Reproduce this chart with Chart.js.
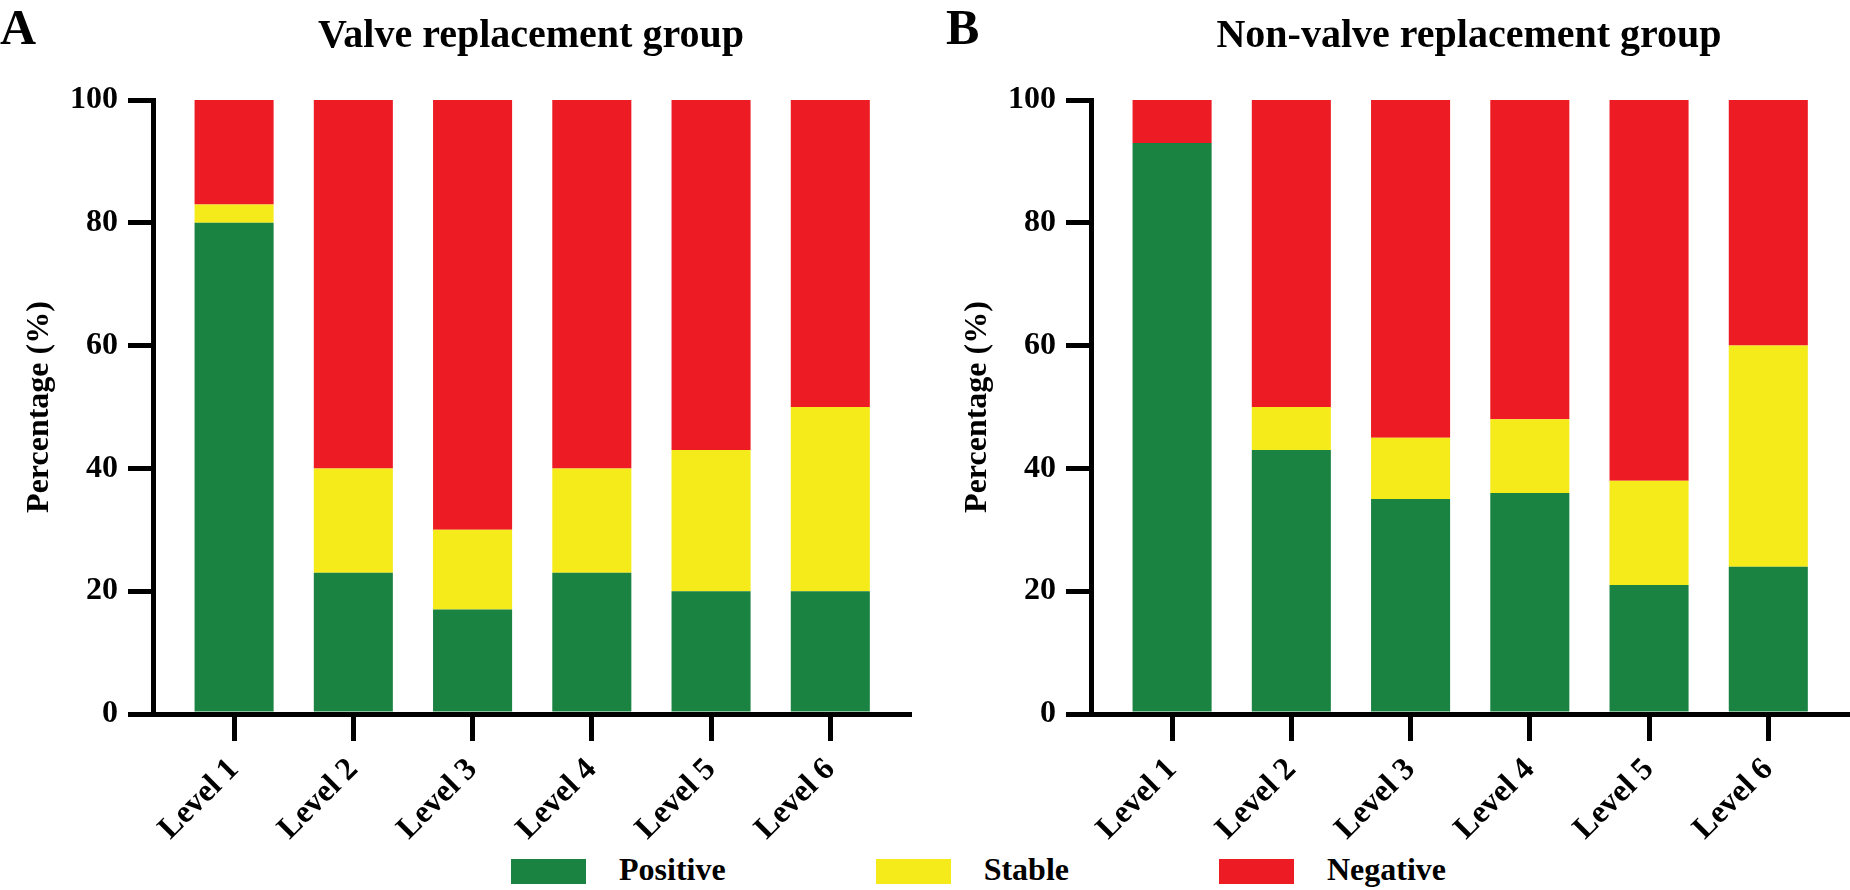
<!DOCTYPE html>
<html>
<head>
<meta charset="utf-8">
<title>Valve vs non-valve replacement group</title>
<script src="https://cdn.jsdelivr.net/npm/chart.js@4.4.1/dist/chart.umd.min.js"></script>
<style>
  body { margin: 0; background: #fff; }
  #page { position: relative; width: 1850px; height: 890px; overflow: hidden;
          font-family: 'Liberation Serif', 'Times New Roman', serif; font-weight: bold; color: #000; }
  canvas { position: absolute; top: 0; }
  .panel-letter { position: absolute; top: 2px; font-size: 50px; line-height: 1; }
  .panel-title { position: absolute; top: 14px; width: 756px; text-align: center; font-size: 40px; line-height: 1; }
  #legend { position: absolute; top: 850px; left: 511px; display: flex; font-size: 32px; line-height: 38px; }
  .item { display: flex; margin-right: 150px; }
  .swatch { display: block; width: 75px; height: 25px; margin-top: 9px; margin-right: 33px; }
</style>
</head>
<body>
<div id="page">
  <canvas id="valve" width="930" height="850" style="left:0"></canvas>
  <canvas id="nonValve" width="912" height="850" style="left:938px"></canvas>
  <div class="panel-letter" style="left:0">A</div>
  <div class="panel-title" style="left:153px">Valve replacement group</div>
  <div class="panel-letter" style="left:946px">B</div>
  <div class="panel-title" style="left:1091px">Non-valve replacement group</div>
  <div id="legend"></div>
</div>
<script>
// Categories and series
const levels = ['Level 1', 'Level 2', 'Level 3', 'Level 4', 'Level 5', 'Level 6'];
const seriesNames = ['Positive', 'Stable', 'Negative'];
const seriesColors = ['#1a8342', '#f5ea1a', '#ed1c24'];

// Valve replacement group (%)
const valvePositive = [80, 23, 17, 23, 20, 20];
const valveStable = [3, 17, 13, 17, 23, 30];
const valveNegative = [17, 60, 70, 60, 57, 50];

// Non-valve replacement group (%)
const nonValvePositive = [93, 43, 35, 36, 21, 24];
const nonValveStable = [0, 7, 10, 12, 17, 36];
const nonValveNegative = [7, 50, 55, 52, 62, 40];

const yMin = 0;
const yMax = 100;
const yStep = 20;

var axisFont = { family: 'Liberation Serif', weight: 'bold', size: 32 };

// Build one stacked bar panel
function buildChart(id, series, rightPad) {
  var ctx = document.getElementById(id).getContext('2d');
  return new Chart(ctx, {
    type: 'bar',
    data: {
      datasets: series.map(function (values, k) {
        return {
          label: seriesNames[k],
          data: values.map(function (v, i) { return { x: i, y: v }; }),
          backgroundColor: seriesColors[k],
          borderWidth: 0,
          barPercentage: 0.663,
          categoryPercentage: 1
        };
      })
    },
    options: {
      responsive: false,
      animation: false,
      layout: { padding: { top: 100, right: rightPad, bottom: 0, left: 0 } },
      plugins: {
        legend: { display: false },
        tooltip: { enabled: false }
      },
      scales: {
        x: {
          type: 'linear',
          stacked: true,
          offset: false,
          min: -0.68,
          max: levels.length - 1 + 0.66,
          grid: { drawOnChartArea: false, offset: false, tickLength: 27, lineWidth: 5, color: '#000' },
          border: { width: 5, color: '#000' },
          ticks: {
            stepSize: 1,
            includeBounds: false,
            autoSkip: false,
            minRotation: 45,
            maxRotation: 45,
            padding: 10,
            color: '#000',
            font: axisFont,
            callback: function (value) { return levels[value] || ''; }
          },
          afterFit: function (scale) { scale.height = 136; }
        },
        y: {
          stacked: true,
          min: yMin,
          max: yMax,
          grid: { drawOnChartArea: false, tickLength: 25, lineWidth: 5, color: '#000' },
          border: { width: 5, color: '#000' },
          ticks: { stepSize: yStep, padding: 10, color: '#000', font: axisFont },
          title: {
            display: true,
            text: 'Percentage (%)',
            color: '#000',
            font: axisFont,
            padding: { top: 21, bottom: 0 }
          },
          afterFit: function (scale) { scale.width = 153; }
        }
      }
    }
  });
}

buildChart('valve', [valvePositive, valveStable, valveNegative], 21);
buildChart('nonValve', [nonValvePositive, nonValveStable, nonValveNegative], 3);

// Shared legend under both panels
var legend = document.getElementById('legend');
seriesNames.forEach(function (name, k) {
  var item = document.createElement('div');
  item.className = 'item';
  var swatch = document.createElement('span');
  swatch.className = 'swatch';
  swatch.style.background = seriesColors[k];
  var label = document.createElement('span');
  label.textContent = name;
  item.appendChild(swatch);
  item.appendChild(label);
  legend.appendChild(item);
});
</script>
</body>
</html>
